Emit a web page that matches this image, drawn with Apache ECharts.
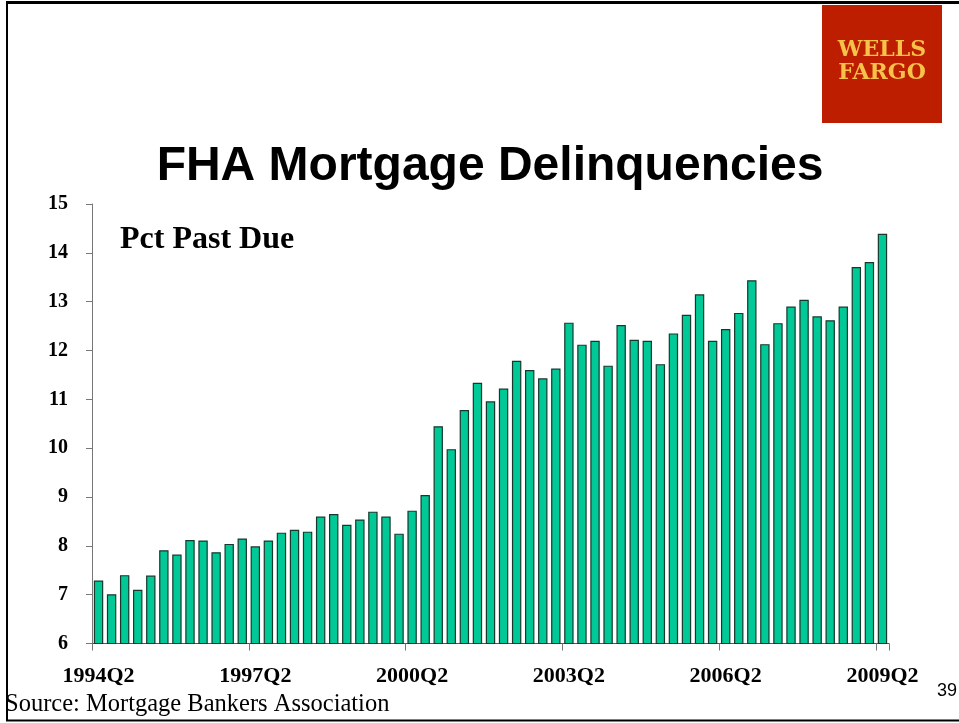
<!DOCTYPE html>
<html>
<head>
<meta charset="utf-8">
<script src="https://cdn.jsdelivr.net/npm/echarts@6/dist/echarts.min.js"></script>
<style>
html,body{margin:0;padding:0;background:#fff;}
#chart{width:959px;height:723px;}
</style>
</head>
<body>
<div id="chart"></div>
<script>
var categories = [
 '1994Q2','1994Q3','1994Q4','1995Q1','1995Q2','1995Q3','1995Q4','1996Q1','1996Q2','1996Q3','1996Q4','1997Q1',
 '1997Q2','1997Q3','1997Q4','1998Q1','1998Q2','1998Q3','1998Q4','1999Q1','1999Q2','1999Q3','1999Q4','2000Q1',
 '2000Q2','2000Q3','2000Q4','2001Q1','2001Q2','2001Q3','2001Q4','2002Q1','2002Q2','2002Q3','2002Q4','2003Q1',
 '2003Q2','2003Q3','2003Q4','2004Q1','2004Q2','2004Q3','2004Q4','2005Q1','2005Q2','2005Q3','2005Q4','2006Q1',
 '2006Q2','2006Q3','2006Q4','2007Q1','2007Q2','2007Q3','2007Q4','2008Q1','2008Q2','2008Q3','2008Q4','2009Q1',
 '2009Q2'
];
var pctPastDue = [
 7.29, 7.01, 7.40, 7.10, 7.39, 7.91, 7.82, 8.12, 8.11, 7.87,
 8.04, 8.15, 7.99, 8.11, 8.27, 8.33, 8.29, 8.60, 8.65, 8.43,
 8.54, 8.70, 8.60, 8.25, 8.72, 9.04, 10.45, 9.98, 10.78, 11.34,
 10.96, 11.22, 11.79, 11.60, 11.43, 11.63, 12.57, 12.12, 12.20, 11.69,
 12.52, 12.22, 12.20, 11.72, 12.35, 12.73, 13.15, 12.20, 12.44, 12.77,
 13.44, 12.13, 12.56, 12.90, 13.04, 12.70, 12.62, 12.90, 13.71, 13.81,
 14.39
];
var yMin = 6, yMax = 15, yStep = 1;

var chart = echarts.init(document.getElementById('chart'), null, {renderer: 'canvas'});
var serif = '"Liberation Serif","Times New Roman",serif';
var sans = '"Liberation Sans",Arial,sans-serif';
chart.setOption({
  animation: false,
  backgroundColor: '#ffffff',
  grid: {left: 92, right: 70, top: 204, bottom: 79.5, containLabel: false},
  xAxis: {
    type: 'category',
    data: categories,
    boundaryGap: true,
    axisLine: {show: true, lineStyle: {color: '#555555', width: 1}},
    axisTick: {show: true, interval: function (idx) { return idx % 12 === 0 && idx < categories.length; }, length: 7, lineStyle: {color: '#777777'}},
    axisLabel: {interval: 11, margin: 22, color: '#000', fontFamily: serif, fontWeight: 'bold', fontSize: 22}
  },
  yAxis: {
    type: 'value',
    min: yMin, max: yMax, interval: yStep,
    axisLine: {show: true, lineStyle: {color: '#777777', width: 1}},
    axisTick: {show: true, length: 6, lineStyle: {color: '#777777'}},
    splitLine: {show: false},
    axisLabel: {margin: 24, color: '#000', fontFamily: serif, fontWeight: 'bold', fontSize: 20}
  },
  series: [{
    type: 'bar',
    data: pctPastDue,
    barWidth: '72%',
    itemStyle: {color: '#00C896', borderColor: '#17392D', borderWidth: 1.2}
  }],
  graphic: [
    {type: 'line', shape: {x1: 6, y1: 2.5, x2: 959, y2: 2.5}, style: {stroke: '#000', lineWidth: 3}},
    {type: 'line', shape: {x1: 7, y1: 1, x2: 7, y2: 721}, style: {stroke: '#000', lineWidth: 2}},
    {type: 'line', shape: {x1: 6, y1: 720.5, x2: 959, y2: 720.5}, style: {stroke: '#000', lineWidth: 2}},
    {type: 'rect', shape: {x: 822, y: 5, width: 120, height: 118}, style: {fill: '#BE1E00'}},
    {type: 'text', style: {text: 'WELLS', x: 882, y: 50, fill: '#F7C24A', font: 'bold 22px "DejaVu Serif",serif', textAlign: 'center', textVerticalAlign: 'middle'}},
    {type: 'text', style: {text: 'FARGO', x: 882, y: 73, fill: '#F7C24A', font: 'bold 22px "DejaVu Serif",serif', textAlign: 'center', textVerticalAlign: 'middle'}},
    {type: 'text', style: {text: 'FHA Mortgage Delinquencies', x: 490, y: 167, fill: '#000', font: 'bold 48px ' + sans, textAlign: 'center', textVerticalAlign: 'middle'}},
    {type: 'text', style: {text: 'Pct Past Due', x: 120, y: 240, fill: '#000', font: 'bold 32px ' + serif, textAlign: 'left', textVerticalAlign: 'middle'}},
    {type: 'text', style: {text: 'Source: Mortgage Bankers Association', x: 5, y: 705, fill: '#000', font: '24.5px ' + serif, textAlign: 'left', textVerticalAlign: 'middle'}},
    {type: 'text', style: {text: '39', x: 937, y: 691, fill: '#000', font: '18px ' + sans, textAlign: 'left', textVerticalAlign: 'middle'}}
  ]
});
</script>
</body>
</html>
